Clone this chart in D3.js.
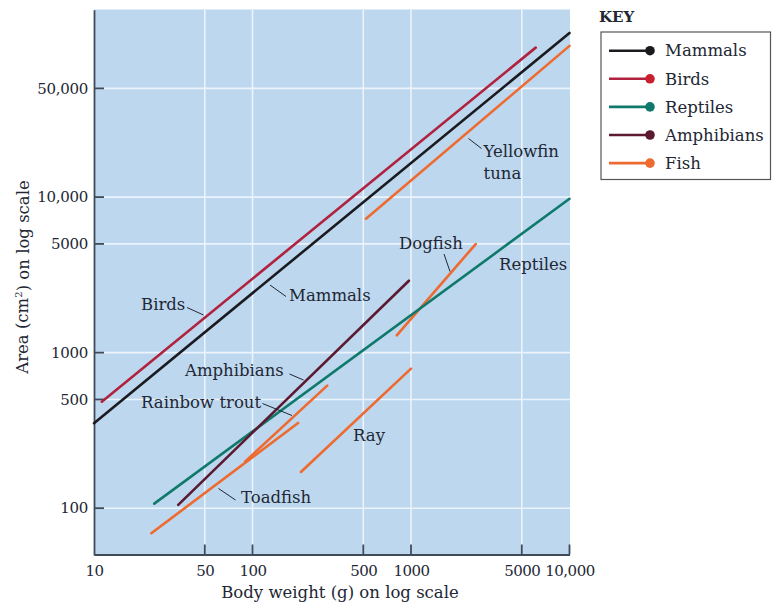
<!DOCTYPE html>
<html>
<head>
<meta charset="utf-8">
<script src="https://cdn.jsdelivr.net/npm/d3@7"></script>
<style>
  html, body { margin: 0; padding: 0; background: #ffffff; }
  svg { display: block; }
  text { font-family: "DejaVu Serif", "Liberation Serif", serif; fill: #222733; }
</style>
</head>
<body>
<svg id="chart" width="772" height="608"></svg>
<script>
// ---------------- DATA ----------------
const groups = ["Mammals", "Birds", "Reptiles", "Amphibians", "Fish"];

// Each drawn regression segment (body weight g, area cm2)
const lineNames   = ["Mammals", "Birds", "Reptiles", "Amphibians", "Yellowfin tuna", "Dogfish", "Ray", "Rainbow trout", "Toadfish"];
const lineGroups  = ["Mammals", "Birds", "Reptiles", "Amphibians", "Fish", "Fish", "Fish", "Fish", "Fish"];
const startWeight = [10,    11.2,  24,   34,   520,   813,  202, 90,  23];
const startArea   = [352,   484,   107,  105,  7260,  1292, 171, 200, 69];
const endWeight   = [10000, 6120,  10000, 970, 10000, 2560, 1000, 296, 194];
const endArea     = [113500, 91400, 9750, 2900, 93800, 4990, 789, 614, 353];

const xTicks = [10, 50, 100, 500, 1000, 5000, 10000];
const xTickLabels = ["10", "50", "100", "500", "1000", "5000", "10,000"];
const yTicks = [100, 500, 1000, 5000, 10000, 50000];
const yTickLabels = ["100", "500", "1000", "5000", "10,000", "50,000"];

// ---------------- STYLE / LAYOUT ----------------
const colors = {
  Mammals: "#1b1b1f",
  Birds: "#b0223e",
  Reptiles: "#0f7a6b",
  Amphibians: "#5b1a30",
  Fish: "#ee6a2f"
};
const legendDot = {
  Mammals: "#1b1b1f",
  Birds: "#c8202f",
  Reptiles: "#0f7a6b",
  Amphibians: "#5b1a30",
  Fish: "#ee6a2f"
};
const plot = { left: 94, right: 570, top: 9.5, bottom: 554.5 };

const annotations = [
  { text: ["Birds"], x: 141, y: 304, leader: [187, 307.5, 203.5, 315] },
  { text: ["Mammals"], x: 289, y: 295, leader: [270, 285, 286, 296.5] },
  { text: ["Amphibians"], x: 185, y: 370.5, leader: [289.5, 374, 303.5, 380] },
  { text: ["Rainbow trout"], x: 141, y: 402.5, leader: [262.5, 403.5, 292, 415.5] },
  { text: ["Toadfish"], x: 241, y: 497.5, leader: [218.5, 488.5, 235.5, 500] },
  { text: ["Ray"], x: 353, y: 435, leader: null },
  { text: ["Dogfish"], x: 399, y: 243.5, leader: [444, 254, 450, 271.5] },
  { text: ["Reptiles"], x: 499, y: 264, leader: null },
  { text: ["Yellowfin", "tuna"], x: 483.5, y: 151.5, leader: [468.5, 138.5, 481.5, 148.5] }
];

// ---------------- DRAW ----------------
const svg = d3.select("#chart");

const x = d3.scaleLog().domain([10, 10000]).range([plot.left, 569.5]);
const y = d3.scaleLog().domain([50, 160000]).range([555, 9.8]);

// background
svg.append("rect")
  .attr("x", plot.left).attr("y", plot.top)
  .attr("width", plot.right - plot.left).attr("height", plot.bottom - plot.top)
  .attr("fill", "#bdd7ef");

// grid
const grid = svg.append("g").attr("stroke", "#f2f7fd").attr("stroke-width", 1.6).attr("opacity", 0.9);
xTicks.filter(d => d > 10 && d < 10000).forEach(d => {
  grid.append("line").attr("x1", x(d)).attr("x2", x(d)).attr("y1", plot.top).attr("y2", plot.bottom);
});
yTicks.forEach(d => {
  grid.append("line").attr("y1", y(d)).attr("y2", y(d)).attr("x1", plot.left).attr("x2", plot.right);
});

// axes (inward ticks)
const axisColor = "#3f4a5a";
const xAxis = d3.axisBottom(x).tickValues(xTicks).tickFormat((d, i) => xTickLabels[i]).tickSize(0).tickPadding(11);
const xg = svg.append("g").attr("transform", `translate(0,${plot.bottom})`).call(xAxis);
xg.select(".domain").attr("stroke", axisColor).attr("stroke-width", 1.8);
xg.selectAll("text").attr("font-size", 15).attr("letter-spacing", -0.5)
  .attr("font-family", "DejaVu Serif").attr("fill", "#222733");
xTicks.filter(d => d > 10).forEach(d => {
  svg.append("line").attr("x1", x(d)).attr("x2", x(d)).attr("y1", plot.bottom).attr("y2", plot.bottom - 10)
    .attr("stroke", axisColor).attr("stroke-width", 1.8);
});

const yAxis = d3.axisLeft(y).tickValues(yTicks).tickFormat((d, i) => yTickLabels[i]).tickSize(0).tickPadding(6);
const yg = svg.append("g").attr("transform", `translate(${plot.left},0)`).call(yAxis);
yg.select(".domain").attr("stroke", axisColor).attr("stroke-width", 1.8);
yg.selectAll("text").attr("font-size", 15).attr("letter-spacing", -0.3)
  .attr("font-family", "DejaVu Serif").attr("fill", "#222733");
yTicks.forEach(d => {
  svg.append("line").attr("y1", y(d)).attr("y2", y(d)).attr("x1", plot.left).attr("x2", plot.left + 10)
    .attr("stroke", axisColor).attr("stroke-width", 1.8);
});

// axis titles
svg.append("text").attr("x", 340).attr("y", 592).attr("dy", "0.35em")
  .attr("text-anchor", "middle").attr("font-size", 16.5).text("Body weight (g) on log scale");

const yt = svg.append("text").attr("transform", "translate(22,277) rotate(-90)")
  .attr("dy", "0.35em").attr("text-anchor", "middle").attr("font-size", 16.5);
yt.append("tspan").text("Area (cm");
yt.append("tspan").attr("font-size", 10).attr("dy", "-0.6em").text("2");
yt.append("tspan").attr("dy", "0.45em").text(") on log scale");

// regression lines
const segs = lineNames.map((n, i) => ({
  name: n, group: lineGroups[i],
  x1: startWeight[i], y1: startArea[i], x2: endWeight[i], y2: endArea[i]
}));
const order = ["Fish", "Reptiles", "Amphibians", "Birds", "Mammals"];
svg.append("g").selectAll("line")
  .data(segs.slice().sort((a, b) => order.indexOf(a.group) - order.indexOf(b.group)))
  .join("line")
  .attr("x1", d => x(d.x1)).attr("y1", d => y(d.y1))
  .attr("x2", d => x(d.x2)).attr("y2", d => y(d.y2))
  .attr("stroke", d => colors[d.group])
  .attr("stroke-width", 2.6)
  .attr("stroke-linecap", "round");

// annotations
const ann = svg.append("g");
annotations.forEach(a => {
  a.text.forEach((t, k) => {
    ann.append("text").attr("x", a.x).attr("y", a.y + k * 22).attr("dy", "0.35em")
      .attr("font-size", 16.5).text(t);
  });
  if (a.leader) {
    ann.append("line")
      .attr("x1", a.leader[0]).attr("y1", a.leader[1]).attr("x2", a.leader[2]).attr("y2", a.leader[3])
      .attr("stroke", "#222733").attr("stroke-width", 1);
  }
});

// legend
svg.append("text").attr("x", 599).attr("y", 17).attr("dy", "0.35em")
  .attr("font-size", 15).attr("font-weight", "bold").text("KEY");
svg.append("rect").attr("x", 601).attr("y", 32).attr("width", 169.5).attr("height", 147.5)
  .attr("fill", "#ffffff").attr("stroke", "#555555").attr("stroke-width", 1.2);
const lg = svg.append("g").selectAll("g").data(groups).join("g")
  .attr("transform", (d, i) => `translate(0,${50.7 + i * 28.1})`);
lg.append("line").attr("x1", 609).attr("x2", 650).attr("y1", 0).attr("y2", 0)
  .attr("stroke", d => colors[d]).attr("stroke-width", 2.6);
lg.append("circle").attr("cx", 650).attr("cy", 0).attr("r", 4.8).attr("fill", d => legendDot[d]);
lg.append("text").attr("x", 665).attr("y", 0).attr("dy", "0.35em").attr("font-size", 16.5).text(d => d);
</script>
</body>
</html>
